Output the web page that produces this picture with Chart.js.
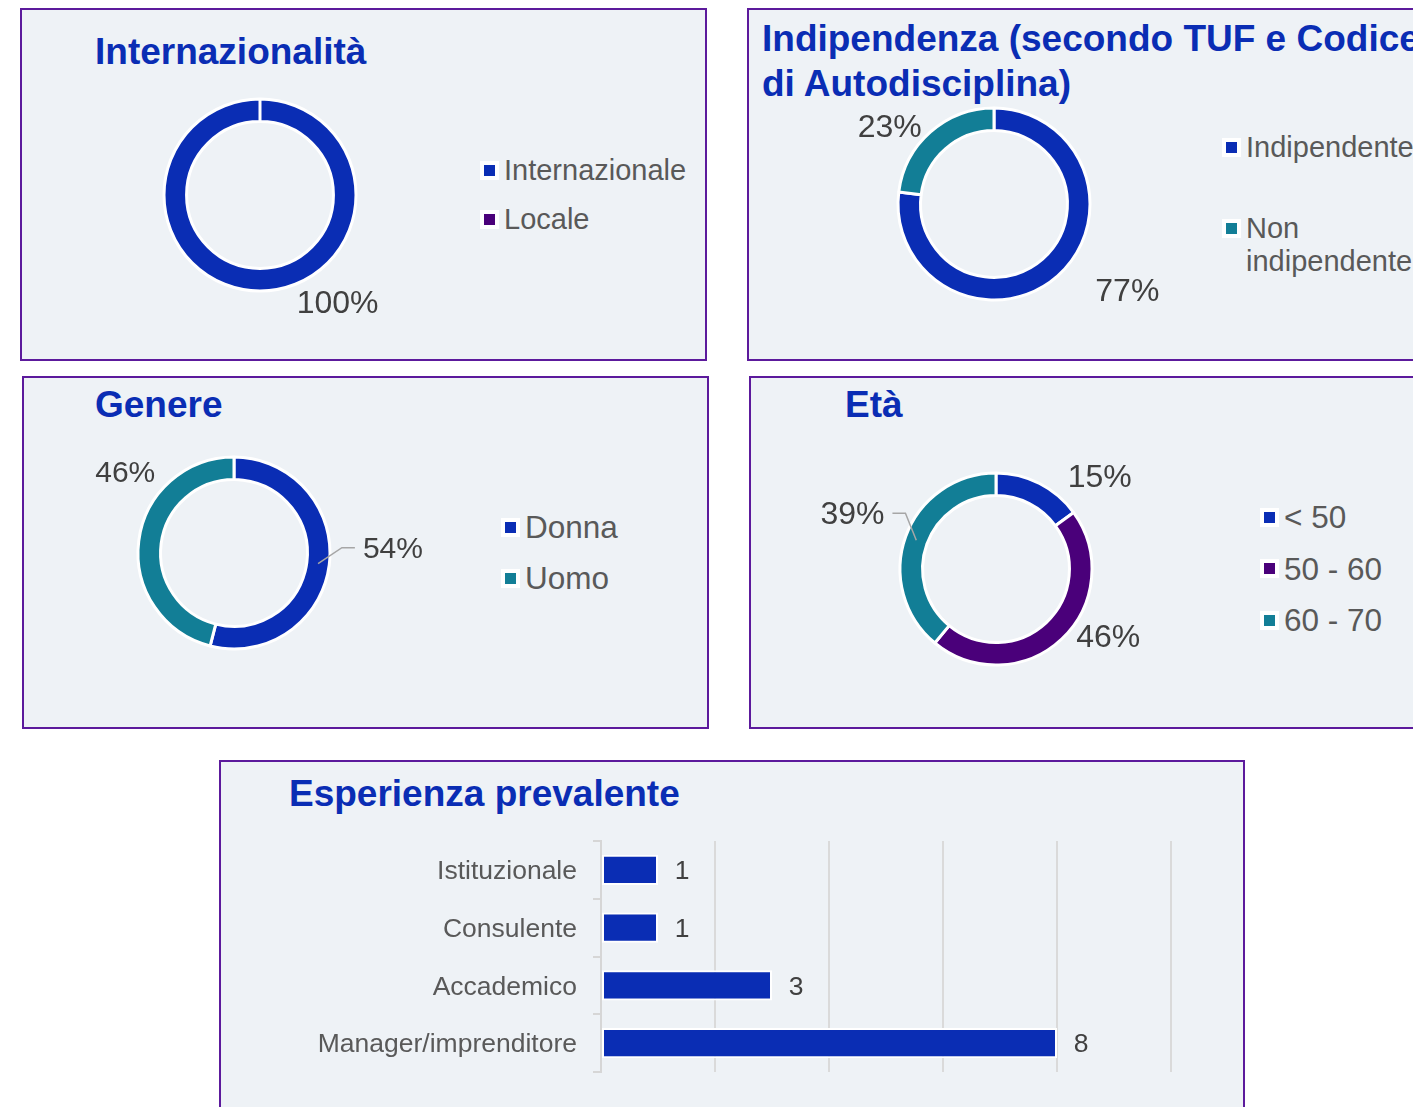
<!DOCTYPE html>
<html lang="it">
<head>
<meta charset="utf-8">
<title>Composizione del Consiglio</title>
<script src="https://cdn.jsdelivr.net/npm/chart.js@4.4.1/dist/chart.umd.min.js"></script>
<style>
  html, body { margin: 0; padding: 0; background: #fff; }
  body { position: relative; width: 1413px; height: 1107px; overflow: hidden;
         font-family: Arial, "Liberation Sans", sans-serif; }
  .pannello { position: absolute; box-sizing: border-box; border: 2px solid #5C1A9C; background: #EEF2F6; }
  .titolo { position: absolute; font-weight: bold; font-size: 37px; line-height: 45px;
            color: #0A2DB4; white-space: nowrap; }
  .grafico { position: absolute; }
  .legenda { position: absolute; display: flex; flex-direction: column;
             font-size: 29px; line-height: 33px; color: #595959; }
  .legenda.grande { font-size: 31.5px; line-height: 36px; }
  .voce { display: flex; align-items: flex-start; }
  .quadrato { width: 19px; height: 33px; flex: none; margin-right: 5px;
              display: flex; align-items: center; justify-content: center; }
  .grande .quadrato { height: 36px; }
  .quadrato span { width: 11px; height: 11px; box-shadow: 0 0 0 4px #fff; }
</style>
</head>
<body>

<!-- cornici dei 5 riquadri -->
<div class="pannello" style="left:20px; top:8px; width:687px; height:353px"></div>
<div class="pannello" style="left:747px; top:8px; width:700px; height:353px"></div>
<div class="pannello" style="left:22px; top:376px; width:687px; height:353px"></div>
<div class="pannello" style="left:749px; top:376px; width:700px; height:353px"></div>
<div class="pannello" style="left:219px; top:760px; width:1026px; height:380px"></div>

<div class="titolo" style="left:95px; top:29px">Internazionalità</div>
<div class="titolo" style="left:762px; top:16px">Indipendenza (secondo TUF e Codice<br>di Autodisciplina)</div>
<div class="titolo" style="left:95px; top:382px">Genere</div>
<div class="titolo" style="left:845px; top:382px">Età</div>
<div class="titolo" style="left:289px; top:771px">Esperienza prevalente</div>

<div class="grafico" style="left:40px; top:35px; width:440px; height:320px"><canvas id="c-internaz"></canvas></div>
<div class="grafico" style="left:774px; top:44px; width:440px; height:320px"><canvas id="c-indip"></canvas></div>
<div class="grafico" style="left:14px; top:393px; width:440px; height:320px"><canvas id="c-genere"></canvas></div>
<div class="grafico" style="left:776px; top:409px; width:440px; height:320px"><canvas id="c-eta"></canvas></div>
<div class="grafico" style="left:221px; top:762px; width:1022px; height:376px"><canvas id="c-esperienza"></canvas></div>

<div class="legenda" id="l-internaz" style="left:480px; top:154px; gap:16px"></div>
<div class="legenda" id="l-indip" style="left:1222px; top:131px; gap:48px; max-width:200px"></div>
<div class="legenda grande" id="l-genere" style="left:501px; top:509px; gap:15px"></div>
<div class="legenda grande" id="l-eta" style="left:1260px; top:499px; gap:15.5px"></div>

<script>
// ---- dati ----
const INTERNAZ_LABELS = ['Internazionale', 'Locale'];
const INTERNAZ_VALORI = [100, 0];

const INDIP_LABELS = ['Indipendente', 'Non indipendente'];
const INDIP_VALORI = [77, 23];

const GENERE_LABELS = ['Donna', 'Uomo'];
const GENERE_VALORI = [54, 46];

const ETA_LABELS = ['< 50', '50 - 60', '60 - 70'];
const ETA_VALORI = [15, 46, 39];

const ESPERIENZA_CATEGORIE = ['Istituzionale', 'Consulente', 'Accademico', 'Manager/imprenditore'];
const ESPERIENZA_VALORI = [1, 1, 3, 8];
const ESPERIENZA_TICKS = [0, 2, 4, 6, 8, 10];

// ---- stile ----
const BLU = '#0A2DB4';
const VIOLA = '#4A007A';
const PETROLIO = '#127E96';
const FONT = "'Liberation Sans', Arial, sans-serif";
const TESTO_ETICHETTE = '#404040';

Chart.defaults.font.family = FONT;

// anello: raggio esterno 96 + bordo bianco 3 -> area quadrata di 195px
const LATO_ANELLO = 195;

// percentuali attorno all'anello (angolo in gradi, distanza dal centro), con linea guida opzionale
const etichetteAnello = {
  id: 'etichetteAnello',
  afterDatasetsDraw(chart, args, opts) {
    const { ctx } = chart;
    const valori = chart.data.datasets[0].data;
    ctx.save();
    ctx.font = `${opts.dimensione || 32}px ${FONT}`;
    ctx.fillStyle = TESTO_ETICHETTE;
    ctx.textAlign = 'center';
    ctx.textBaseline = 'middle';
    chart.getDatasetMeta(0).data.forEach((arco, i) => {
      const pos = opts.posizioni[i];
      if (!pos || !valori[i]) return;
      const p = arco.getProps(['x', 'y', 'startAngle', 'endAngle', 'innerRadius', 'outerRadius'], true);
      const a = pos.angolo * Math.PI / 180;
      const lx = p.x + Math.cos(a) * pos.dist;
      const ly = p.y + Math.sin(a) * pos.dist;
      const testo = valori[i] + '%';
      ctx.fillText(testo, lx, ly + 2); // +2: la "middle" del canvas sta un po' sopra il centro delle cifre
      if (pos.linea) {
        const medio = (p.startAngle + p.endAngle) / 2;
        const rMedio = (p.innerRadius + p.outerRadius) / 2;
        const lato = Math.cos(a) >= 0 ? 1 : -1;
        const bordo = lx - lato * ctx.measureText(testo).width / 2;
        ctx.beginPath();
        ctx.moveTo(p.x + Math.cos(medio) * rMedio, p.y + Math.sin(medio) * rMedio);
        ctx.lineTo(bordo - lato * 21, ly);
        ctx.lineTo(bordo - lato * 8, ly);
        ctx.strokeStyle = '#A6A6A6';
        ctx.lineWidth = 1.5;
        ctx.stroke();
      }
    });
    ctx.restore();
  }
};

// valore a destra di ogni barra
const etichetteBarre = {
  id: 'etichetteBarre',
  afterDatasetsDraw(chart) {
    const { ctx } = chart;
    const valori = chart.data.datasets[0].data;
    ctx.save();
    ctx.font = `26.5px ${FONT}`;
    ctx.fillStyle = TESTO_ETICHETTE;
    ctx.textAlign = 'center';
    ctx.textBaseline = 'middle';
    chart.getDatasetMeta(0).data.forEach((barra, i) => {
      ctx.fillText(String(valori[i]), barra.x + 24, barra.y + 2);
    });
    ctx.restore();
  }
};

function creaCiambella(idCanvas, labels, valori, colori, posizioni, dimensione) {
  const canvas = document.getElementById(idCanvas);
  const w = canvas.parentNode.clientWidth;
  const h = canvas.parentNode.clientHeight;
  const padX = (w - LATO_ANELLO) / 2;
  const padY = (h - LATO_ANELLO) / 2;
  return new Chart(canvas, {
    type: 'doughnut',
    data: {
      labels,
      datasets: [{
        data: valori,
        backgroundColor: colori,
        borderColor: '#FFFFFF',
        borderWidth: 3,
        hoverBorderWidth: 3,
        hoverOffset: 0,
        borderAlign: 'center'
      }]
    },
    options: {
      responsive: true,
      maintainAspectRatio: false,
      animation: false,
      events: [],
      cutout: '76.5%',
      layout: { padding: { left: padX, right: padX, top: padY, bottom: padY } },
      plugins: {
        legend: { display: false },
        tooltip: { enabled: false },
        etichetteAnello: { posizioni, dimensione }
      }
    },
    plugins: [etichetteAnello]
  });
}

function creaLegenda(idDiv, labels, colori) {
  const div = document.getElementById(idDiv);
  labels.forEach((nome, i) => {
    const voce = document.createElement('div');
    voce.className = 'voce';
    voce.innerHTML = `<div class="quadrato"><span style="background:${colori[i]}"></span></div><div></div>`;
    voce.lastChild.textContent = nome;
    div.appendChild(voce);
  });
}

function creaBarre() {
  const ultimo = ESPERIENZA_TICKS.length - 1;
  new Chart(document.getElementById('c-esperienza'), {
    type: 'bar',
    data: {
      labels: ESPERIENZA_CATEGORIE,
      datasets: [{
        data: ESPERIENZA_VALORI,
        backgroundColor: BLU,
        borderColor: '#FFFFFF',
        borderWidth: 2,
        borderSkipped: false,
        barPercentage: 0.52,
        categoryPercentage: 1
      }]
    },
    options: {
      indexAxis: 'y',
      responsive: true,
      maintainAspectRatio: false,
      animation: false,
      events: [],
      layout: { padding: { left: 0, top: 79, right: 72, bottom: 66 } },
      scales: {
        x: {
          min: ESPERIENZA_TICKS[0],
          max: ESPERIENZA_TICKS[ultimo],
          ticks: { stepSize: ESPERIENZA_TICKS[1] - ESPERIENZA_TICKS[0], display: false },
          grid: { color: '#DADADA', lineWidth: 2, drawTicks: false },
          border: { display: false },
          afterFit: (s) => { s.height = 0; }
        },
        y: {
          grid: { drawOnChartArea: false, drawTicks: true, tickLength: 8, color: '#D6D6D6', lineWidth: 2 },
          border: { display: true, color: '#D6D6D6', width: 2 },
          ticks: { color: '#595959', font: { size: 26.5 }, padding: 16, labelOffset: 2 },
          afterFit: (s) => { s.width = 380; }
        }
      },
      plugins: {
        legend: { display: false },
        tooltip: { enabled: false }
      }
    },
    plugins: [etichetteBarre]
  });
}

creaCiambella('c-internaz', INTERNAZ_LABELS, INTERNAZ_VALORI, [BLU, VIOLA],
  [{ angolo: 54, dist: 132 }, null], 32);
creaCiambella('c-indip', INDIP_LABELS, INDIP_VALORI, [BLU, PETROLIO],
  [{ angolo: 33, dist: 159 }, { angolo: 216.7, dist: 130 }], 32);
creaCiambella('c-genere', GENERE_LABELS, GENERE_VALORI, [BLU, PETROLIO],
  [{ angolo: -1.9, dist: 159, linea: true }, { angolo: 216.6, dist: 135.5 }], 30);
creaCiambella('c-eta', ETA_LABELS, ETA_VALORI, [BLU, VIOLA, PETROLIO],
  [{ angolo: -41.7, dist: 139 }, { angolo: 31.1, dist: 131 }, { angolo: 201.2, dist: 154, linea: true }], 32);

creaLegenda('l-internaz', INTERNAZ_LABELS, [BLU, VIOLA]);
creaLegenda('l-indip', INDIP_LABELS, [BLU, PETROLIO]);
creaLegenda('l-genere', GENERE_LABELS, [BLU, PETROLIO]);
creaLegenda('l-eta', ETA_LABELS, [BLU, VIOLA, PETROLIO]);

creaBarre();
</script>
</body>
</html>
